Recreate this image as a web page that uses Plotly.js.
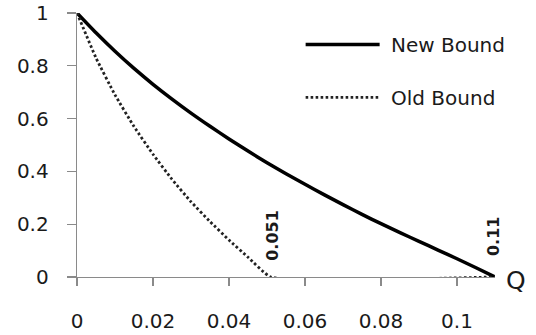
<!DOCTYPE html>
<html>
<head>
<meta charset="utf-8">
<script src="https://cdn.plot.ly/plotly-3.0.1.min.js"></script>
<style>html,body{margin:0;padding:0;background:#fff;}#chart{width:536px;height:335px;}</style>
</head>
<body>
<div id="chart"></div>
<script>
// New Bound (solid)
const newX = [0, 0.005, 0.01, 0.015, 0.02, 0.025, 0.03, 0.035, 0.04, 0.045, 0.05, 0.055, 0.06, 0.065, 0.07, 0.075, 0.08, 0.085, 0.09, 0.095, 0.1, 0.105, 0.11];
const newY = [1, 0.925, 0.855, 0.79, 0.73, 0.674, 0.621, 0.571, 0.523, 0.477, 0.433, 0.391, 0.351, 0.312, 0.274, 0.237, 0.202, 0.168, 0.135, 0.102, 0.069, 0.035, 0];
// Old Bound (dotted)
const oldX = [0, 0.005, 0.01, 0.015, 0.02, 0.025, 0.03, 0.035, 0.04, 0.045, 0.051, 0.11];
const oldY = [1, 0.83, 0.69, 0.57, 0.465, 0.37, 0.285, 0.21, 0.14, 0.075, 0, 0];
const seriesNames = ["New Bound", "Old Bound"];
const xTicks = [0, 0.02, 0.04, 0.06, 0.08, 0.1];
const xTickText = ["0", "0.02", "0.04", "0.06", "0.08", "0.1"];
const yTicks = [0, 0.2, 0.4, 0.6, 0.8, 1];
const yTickText = ["0", "0.2", "0.4", "0.6", "0.8", "1"];
const markLabels = ["0.051", "0.11"];
const markX = [0.051, 0.11];

const font = "DejaVu Sans, Verdana, sans-serif";
const txt = "#1a1a1a";
const pad = "\u00a0";

const traces = [
  {x: newX, y: newY, type: "scatter", mode: "lines", name: pad + seriesNames[0], legendgroup: "a",
   line: {color: "#000", width: 3.5, shape: "spline", smoothing: 0.6}, cliponaxis: false},
  {x: oldX, y: oldY, type: "scatter", mode: "lines", name: pad + seriesNames[1], legendgroup: "b",
   line: {color: "#222", width: 2.8, dash: "2.6px,2.4px", shape: "spline", smoothing: 0.4}, cliponaxis: false}
];

const layout = {
  width: 536, height: 335,
  margin: {l: 77, r: 41, t: 13, b: 58},
  paper_bgcolor: "#fff", plot_bgcolor: "#fff",
  font: {family: font, size: 20, color: txt},
  showlegend: true,
  legend: {x: 0.535, y: 0.955, xanchor: "left", yanchor: "top", bgcolor: "rgba(0,0,0,0)",
           font: {family: font, size: 20, color: txt}, tracegroupgap: 24, itemwidth: 74},
  xaxis: {range: [0, 0.11], tickvals: xTicks, ticktext: xTickText, showgrid: false, zeroline: false,
          showline: true, linecolor: "#8a8a8a", linewidth: 1.3, ticks: "outside", ticklen: 8,
          tickcolor: "#8a8a8a", tickwidth: 1.3, ticklabelstandoff: 18, fixedrange: true, layer: "below traces"},
  yaxis: {range: [0, 1], tickvals: yTicks, ticktext: yTickText, showgrid: false, zeroline: false,
          showline: true, linecolor: "#8a8a8a", linewidth: 1.3, ticks: "outside", ticklen: 9,
          tickcolor: "#8a8a8a", tickwidth: 1.3, ticklabelstandoff: 14, fixedrange: true, layer: "below traces"},
  annotations: [
    {x: markX[0], y: 0.055, xref: "x", yref: "y", text: "<b>" + markLabels[0] + "</b>", textangle: -90,
     showarrow: false, xanchor: "center", yanchor: "bottom", xshift: 2, font: {family: font, size: 16, color: txt}},
    {x: markX[1], y: 0.07, xref: "x", yref: "y", text: "<b>" + markLabels[1] + "</b>", textangle: -90,
     showarrow: false, xanchor: "center", yanchor: "bottom", xshift: -2, font: {family: font, size: 16, color: txt}},
    {x: 0.11, y: 0, xref: "x", yref: "y", text: "Q", showarrow: false, xanchor: "left", yanchor: "middle",
     xshift: 9, yshift: -3, font: {family: font, size: 25, color: txt}}
  ]
};

Plotly.newPlot("chart", traces, layout, {staticPlot: true, displayModeBar: false});
</script>
</body>
</html>
